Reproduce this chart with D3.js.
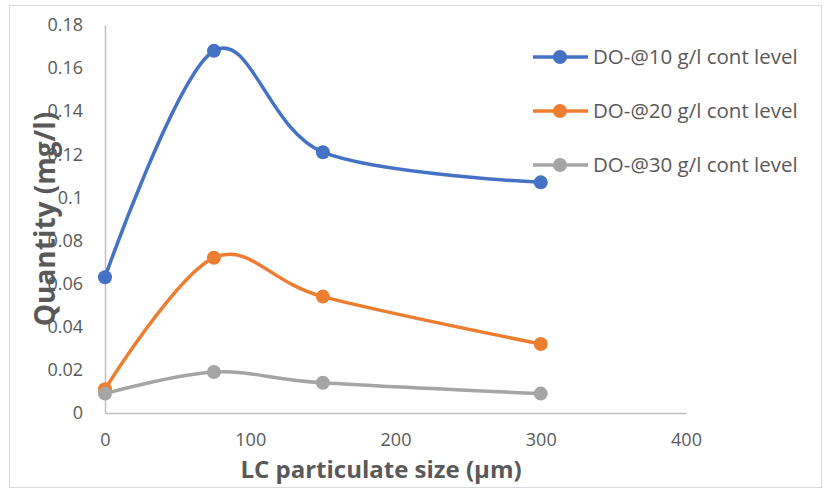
<!DOCTYPE html>
<html>
<head>
<meta charset="utf-8">
<script src="https://cdn.jsdelivr.net/npm/d3@7"></script>
<style>
  html, body { margin: 0; padding: 0; background: #fff; }
  svg { display: block; }
  text { font-family: "Open Sans", "Noto Sans", sans-serif; fill: #595959; }
</style>
</head>
<body>
<svg id="chart" width="828" height="493"></svg>
<script>
// Particle sizes (µm) and dissolved-oxygen quantities (mg/l)
const sizes = [0, 75, 150, 300];
const do10 = [0.063, 0.168, 0.121, 0.107];
const do20 = [0.011, 0.072, 0.054, 0.032];
const do30 = [0.009, 0.019, 0.014, 0.009];
const seriesNames = ["DO-@10 g/l cont level", "DO-@20 g/l cont level", "DO-@30 g/l cont level"];
const seriesColors = ["#4472C4", "#ED7D31", "#A5A5A5"];
const xTicks = [0, 100, 200, 300, 400];
const yTicks = [0, 0.02, 0.04, 0.06, 0.08, 0.1, 0.12, 0.14, 0.16, 0.18];

const series = [do10, do20, do30].map((vals, i) => ({
  name: seriesNames[i],
  color: seriesColors[i],
  points: sizes.map((s, j) => ({ x: s, y: vals[j] }))
}));

const svg = d3.select("#chart");

// chart frame
svg.append("rect")
  .attr("x", 9.5).attr("y", 5.5)
  .attr("width", 812).attr("height", 482)
  .attr("fill", "#fff").attr("stroke", "#D9D9D9").attr("stroke-width", 1);

const x = d3.scaleLinear().domain([0, 400]).range([105, 686]);
const y = d3.scaleLinear().domain([0, 0.18]).range([413, 25]);

// axes
const xAxis = svg.append("g").attr("transform", `translate(0,${y(0)})`)
  .call(d3.axisBottom(x).tickValues(xTicks).tickSize(0).tickPadding(20).tickFormat(d3.format("d")));
xAxis.select(".domain").attr("stroke", "#BFBFBF").attr("stroke-width", 1.5);
xAxis.selectAll("text").attr("font-size", 18).style("fill", "#595959");

const yAxis = svg.append("g").attr("transform", `translate(${x(0)},0)`)
  .call(d3.axisLeft(y).tickValues(yTicks).tickSize(0).tickPadding(22).tickFormat(d => d === 0 ? "0" : String(+d.toFixed(2))));
yAxis.select(".domain").attr("stroke", "#BFBFBF").attr("stroke-width", 1.5);
yAxis.selectAll("text").attr("font-size", 18).style("fill", "#595959");

// lines and markers
const line = d3.line().x(d => x(d.x)).y(d => y(d.y)).curve(d3.curveCardinal.tension(0));
series.forEach(s => {
  svg.append("path").datum(s.points)
    .attr("d", line).attr("fill", "none")
    .attr("stroke", s.color).attr("stroke-width", 3.5).attr("stroke-linecap", "round");
  svg.append("g").selectAll("circle").data(s.points).join("circle")
    .attr("cx", d => x(d.x)).attr("cy", d => y(d.y)).attr("r", 7)
    .attr("fill", s.color);
});

// legend
const legend = svg.append("g");
series.forEach((s, i) => {
  const ly = 57 + i * 54;
  legend.append("line").attr("x1", 533).attr("x2", 588).attr("y1", ly).attr("y2", ly)
    .attr("stroke", s.color).attr("stroke-width", 3.5);
  legend.append("circle").attr("cx", 560).attr("cy", ly).attr("r", 7).attr("fill", s.color);
  legend.append("text").attr("x", 593).attr("y", ly).attr("dy", "0.35em")
    .attr("font-size", 20.5).text(s.name);
});

// axis titles
svg.append("text").attr("x", 381).attr("y", 478).attr("text-anchor", "middle")
  .attr("font-size", 24).attr("font-weight", "bold").text("LC particulate size (µm)");
svg.append("text").attr("transform", "translate(55,219) rotate(-90)").attr("text-anchor", "middle")
  .attr("font-size", 28).attr("font-weight", "bold").text("Quantity (mg/l)");
</script>
</body>
</html>
